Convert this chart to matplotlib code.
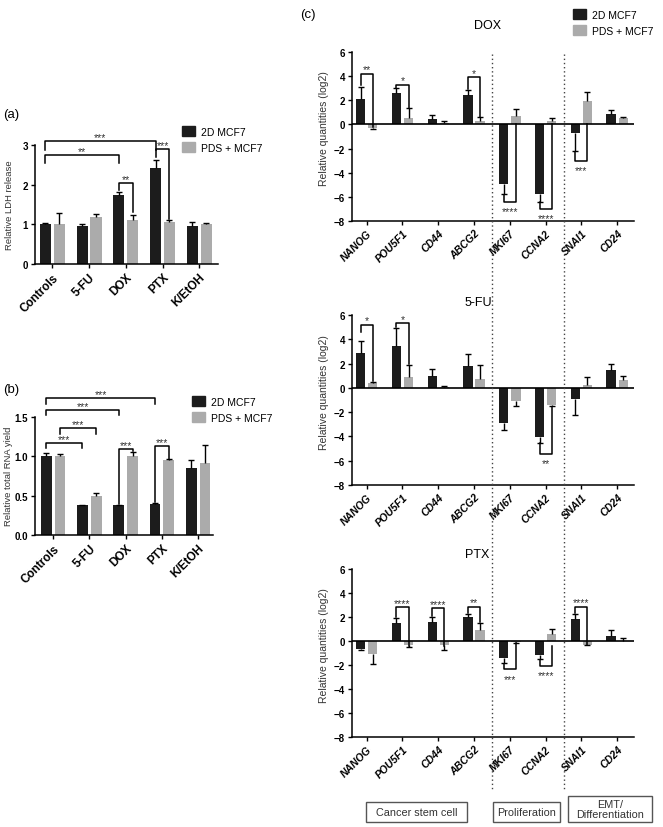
import matplotlib.pyplot as plt
import numpy as np
from matplotlib.patches import Patch, Rectangle
from matplotlib.lines import Line2D
import matplotlib.transforms as mtransforms

plt.rcParams['font.family'] = ['Liberation Sans', 'DejaVu Sans']

BLACK = '#1c1c1c'
GREY = '#ababab'

# (a) relative LDH release
treat = ['Controls', '5-FU', 'DOX', 'PTX', 'K/EtOH']
ldh_2d = [1.02, 0.96, 1.74, 2.43, 0.95]
ldh_2d_err = [0.01, 0.05, 0.08, 0.19, 0.12]
ldh_pds = [1.02, 1.19, 1.10, 1.07, 1.00]
ldh_pds_err = [0.26, 0.07, 0.14, 0.05, 0.03]

# (b) relative total RNA yield
rna_2d = [1.01, 0.38, 0.38, 0.40, 0.85]
rna_2d_err = [0.03, 0.005, 0.005, 0.005, 0.10]
rna_pds = [1.01, 0.50, 1.00, 0.95, 0.91]
rna_pds_err = [0.02, 0.03, 0.06, 0.01, 0.24]

# (c) relative quantities (log2)
genes = ['NANOG', 'POU5F1', 'CD44', 'ABCG2', 'MKI67', 'CCNA2', 'SNAI1', 'CD24']
dox_2d = [2.1, 2.6, 0.42, 2.45, -4.9, -5.8, -0.72, 0.85]
dox_2d_err = [1.0, 0.4, 0.38, 0.4, 0.9, 0.6, 1.5, 0.35]
dox_pds = [-0.3, 0.56, 0.12, 0.3, 0.72, 0.3, 1.98, 0.5]
dox_pds_err = [0.05, 0.8, 0.13, 0.3, 0.56, 0.2, 0.72, 0.15]

fu_2d = [2.85, 3.47, 1.0, 1.83, -2.9, -4.07, -0.92, 1.5]
fu_2d_err = [1.05, 1.43, 0.55, 0.97, 0.55, 0.43, 1.33, 0.46]
fu_pds = [0.37, 0.87, 0.05, 0.7, -1.08, -1.38, 0.2, 0.65]
fu_pds_err = [0.13, 1.03, 0.13, 1.2, 0.42, 0.12, 0.72, 0.35]

ptx_2d = [-0.65, 1.5, 1.62, 2.04, -1.42, -1.14, 1.85, 0.4]
ptx_2d_err = [0.1, 0.4, 0.41, 0.21, 0.43, 0.36, 0.4, 0.48]
ptx_pds = [-1.12, -0.3, -0.3, 0.93, -0.1, 0.57, -0.3, 0.03]
ptx_pds_err = [0.78, 0.2, 0.42, 0.55, 0.05, 0.47, 0.03, 0.22]

# significance brackets: (cat1, side1, cat2, side2, height, leg1 end, leg2 end, stars)
# side 0 = 2D MCF7 bar, side 1 = PDS + MCF7 bar
sig_a = [(0, 0, 3, 0, 3.10, 2.88, 2.88, '***'),
         (0, 0, 2, 0, 2.75, 2.55, 2.55, '**'),
         (2, 0, 2, 1, 2.03, 1.87, 1.30, '**'),
         (3, 0, 3, 1, 2.89, 2.70, 1.14, '***')]
sig_b = [(0, 0, 3, 0, 1.74, 1.67, 1.67, '***'),
         (0, 0, 2, 0, 1.59, 1.52, 1.52, '***'),
         (0, 1, 1, 1, 1.36, 1.29, 1.29, '***'),
         (0, 0, 1, 0, 1.17, 1.10, 1.10, '***'),
         (2, 0, 2, 1, 1.09, 0.40, 1.07, '***'),
         (3, 0, 3, 1, 1.13, 0.42, 0.97, '***')]
sig_dox = [(0, 0, 0, 1, 4.2, 3.3, -0.2, '**'),
           (1, 0, 1, 1, 3.3, 3.05, 1.4, '*'),
           (3, 0, 3, 1, 3.9, 2.9, 0.65, '*'),
           (4, 0, 4, 1, -6.45, -5.85, 0.0, '****'),
           (5, 0, 5, 1, -7.0, -6.45, 0.0, '****'),
           (6, 0, 6, 1, -3.0, -2.25, 0.0, '***')]
sig_fu = [(0, 0, 0, 1, 5.2, 4.6, 0.55, '*'),
          (1, 0, 1, 1, 5.35, 5.0, 2.0, '*'),
          (5, 0, 5, 1, -5.45, -4.55, -1.55, '**')]
sig_ptx = [(1, 0, 1, 1, 2.8, 2.0, -0.45, '****'),
           (2, 0, 2, 1, 2.75, 2.1, -0.43, '****'),
           (3, 0, 3, 1, 2.87, 2.3, 1.55, '**'),
           (6, 0, 6, 1, 2.87, 2.3, -0.3, '****'),
           (4, 0, 4, 1, -2.37, -1.9, -0.15, '***'),
           (5, 0, 5, 1, -2.07, -1.55, -0.4, '****')]

groups = ['Cancer stem cell', 'Proliferation', 'EMT/\nDifferentiation']


def pair_bars(ax, n, v1, e1, v2, e2, w, off):
    x = np.arange(n)
    for vals, errs, col, d in ((v1, e1, BLACK, -off), (v2, e2, GREY, off)):
        vals = np.array(vals)
        errs = np.array(errs)
        ax.bar(x + d, vals, w, color=col, zorder=2)
        tips = vals + np.sign(vals + 1e-9) * errs
        ax.vlines(x + d, vals, tips, color='k', lw=1, zorder=3)
        ax.plot(x + d, tips, ls='none', marker='_', ms=5, mew=1, color='k', zorder=3)


def brackets(ax, sigs, off, fs=7.5):
    for c1, s1, c2, s2, h, y1, y2, txt in sigs:
        x1 = c1 + (off if s1 else -off)
        x2 = c2 + (off if s2 else -off)
        ax.plot([x1, x1, x2, x2], [y1, h, h, y2], color='k', lw=1.1,
                clip_on=False, zorder=4)
        if h < 0:
            ax.annotate(txt, (0.5 * (x1 + x2), h), xytext=(0, -3),
                        textcoords='offset points', ha='center', va='top',
                        fontsize=fs, color='#333333', annotation_clip=False)
        else:
            ax.annotate(txt, (0.5 * (x1 + x2), h), xytext=(0, -0.5),
                        textcoords='offset points', ha='center', va='bottom',
                        fontsize=fs, color='#333333', annotation_clip=False)


def style(ax, labels, xfs, yfs, italic=False):
    for s in ['top', 'right']:
        ax.spines[s].set_visible(False)
    for s in ['left', 'bottom']:
        ax.spines[s].set_linewidth(1.1)
    ax.tick_params(direction='out', length=3, width=1, pad=2)
    ax.set_xticks(np.arange(len(labels)))
    ax.set_xticklabels(labels, rotation=45, ha='right', rotation_mode='anchor',
                       fontsize=xfs, fontweight='bold',
                       fontstyle='italic' if italic else 'normal')
    for t in ax.get_yticklabels():
        t.set_fontsize(yfs)
        t.set_fontweight('bold')


fig = plt.figure(figsize=(6.63, 8.28), dpi=100)
W, H = 663.0, 828.0


def axes_px(left, right, top, bottom):
    return fig.add_axes([left / W, 1 - bottom / H, (right - left) / W, (bottom - top) / H])


leg_handles = [Patch(color=BLACK), Patch(color=GREY)]
leg_labels = ['2D MCF7', 'PDS + MCF7']


def legend_at(x, y):
    fig.legend(leg_handles, leg_labels, loc='upper left',
               bbox_to_anchor=(x / W, 1 - y / H), frameon=False, fontsize=7.5,
               handlelength=1.2, handleheight=1.1, handletextpad=0.6,
               labelspacing=0.55, borderpad=0, borderaxespad=0)


# ---- (a)
ax_a = axes_px(35, 218, 146, 265)
pair_bars(ax_a, 5, ldh_2d, ldh_2d_err, ldh_pds, ldh_pds_err, 0.30, 0.19)
brackets(ax_a, sig_a, 0.19)
ax_a.set_xlim(-0.47, 4.51)
ax_a.set_ylim(0, 3)
ax_a.set_yticks([0, 1, 2, 3])
style(ax_a, treat, 8.5, 7)
ax_a.set_ylabel('Relative LDH release', fontsize=6.8, color='#333333')
ax_a.yaxis.set_label_coords(-0.115, 0.5)
fig.text(3 / W, 1 - 115 / H, '(a)', fontsize=9.5, va='center')
legend_at(182, 127)

# ---- (b)
ax_b = axes_px(35, 213, 418, 536)
pair_bars(ax_b, 5, rna_2d, rna_2d_err, rna_pds, rna_pds_err, 0.30, 0.19)
brackets(ax_b, sig_b, 0.19)
ax_b.set_xlim(-0.5, 4.41)
ax_b.set_ylim(0, 1.5)
ax_b.set_yticks([0, 0.5, 1.0, 1.5])
ax_b.set_yticklabels(['0.0', '0.5', '1.0', '1.5'])
style(ax_b, treat, 8.5, 7)
ax_b.set_ylabel('Relative total RNA yield', fontsize=6.8, color='#333333')
ax_b.yaxis.set_label_coords(-0.125, 0.51)
fig.text(3 / W, 1 - 390 / H, '(b)', fontsize=9.5, va='center')
legend_at(192, 397)

# ---- (c)
panels = [('DOX', 53, 222, 488, 26, dox_2d, dox_2d_err, dox_pds, dox_pds_err, sig_dox),
          ('5-FU', 316, 486, 478, 303, fu_2d, fu_2d_err, fu_pds, fu_pds_err, sig_fu),
          ('PTX', 570, 738, 477, 555, ptx_2d, ptx_2d_err, ptx_pds, ptx_pds_err, sig_ptx)]
c_axes = []
for name, top, bot, tx, ty, v1, e1, v2, e2, sig in panels:
    ax = axes_px(352, 634, top, bot)
    pair_bars(ax, 8, v1, e1, v2, e2, 0.26, 0.17)
    ax.axhline(0, color='k', lw=1.2, zorder=3)
    brackets(ax, sig, 0.17)
    ax.set_xlim(-0.41, 7.47)
    ax.set_ylim(-8, 6)
    ax.set_yticks(np.arange(-8, 7, 2))
    style(ax, genes, 7.5, 7, italic=True)
    ax.set_ylabel('Relative quantities (log2)', fontsize=7.5, color='#333333')
    ax.yaxis.set_label_coords(-0.08, 0.55)
    fig.text(tx / W, 1 - ty / H, name, fontsize=9, ha='center', va='center')
    c_axes.append(ax)

fig.text(300 / W, 1 - 15 / H, '(c)', fontsize=9.5, va='center')
legend_at(573, 10)

# dotted separators between gene groups
tr = mtransforms.blended_transform_factory(c_axes[0].transData, fig.transFigure)
for xs in (3.5, 5.5):
    fig.add_artist(Line2D([xs, xs], [1 - 55 / H, 1 - 792 / H], transform=tr,
                          color='#444444', lw=1, ls=(0, (1, 2))))

# group boxes
boxes = [(366, 467, 803, 823), (493, 560, 803, 823), (568, 652, 797, 823)]
for (l, r, t, b), g in zip(boxes, groups):
    fig.add_artist(Rectangle((l / W, 1 - b / H), (r - l) / W, (b - t) / H,
                             transform=fig.transFigure, fill=False,
                             edgecolor='#555555', lw=1))
    fig.text((l + r) / 2 / W, 1 - (t + b) / 2 / H, g, fontsize=7.8,
             ha='center', va='center', color='#333333', linespacing=1.1)

fig.savefig('out.png', dpi=100)
